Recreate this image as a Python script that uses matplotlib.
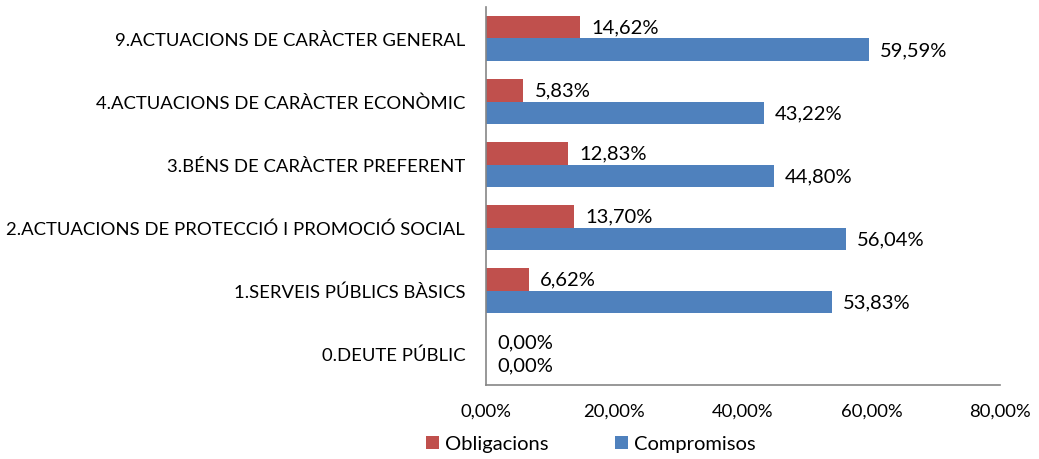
import numpy as np
import matplotlib.pyplot as plt

plt.rcParams['font.family'] = ['Lato', 'DejaVu Sans']

categories = ['0.DEUTE PÚBLIC', '1.SERVEIS PÚBLICS BÀSICS',
              '2.ACTUACIONS DE PROTECCIÓ I PROMOCIÓ SOCIAL',
              '3.BÉNS DE CARÀCTER PREFERENT',
              '4.ACTUACIONS DE CARÀCTER ECONÒMIC',
              '9.ACTUACIONS DE CARÀCTER GENERAL']
obligacions = [0.00, 6.62, 13.70, 12.83, 5.83, 14.62]
compromisos = [0.00, 53.83, 56.04, 44.80, 43.22, 59.59]
xticks = [0, 20, 40, 60, 80]

red = '#C0504D'
blue = '#4F81BD'
fs = 13.3
fs_lab = 14.5

fig = plt.figure(figsize=(10.39, 4.6), dpi=100)
ax = fig.add_axes([486 / 1039, 1 - 386 / 460, 514 / 1039, 378 / 460])

y = np.arange(len(categories))
h = 0.365
ax.barh(y + h / 2, obligacions, height=h, color=red, label='Obligacions')
ax.barh(y - h / 2, compromisos, height=h, color=blue, label='Compromisos')

fmt = lambda v: f'{v:.2f}%'.replace('.', ',')
for yi, v in zip(y, obligacions):
    ax.annotate(fmt(v), (v, yi + h / 2), xytext=(8, 0), textcoords='offset points',
                va='center', ha='left', fontsize=fs_lab)
for yi, v in zip(y, compromisos):
    ax.annotate(fmt(v), (v, yi - h / 2), xytext=(8, 0), textcoords='offset points',
                va='center', ha='left', fontsize=fs_lab)

ax.set_xlim(0, 80)
ax.set_ylim(-0.5, len(categories) - 0.5)
ax.set_xticks(xticks)
ax.set_xticklabels([fmt(t) for t in xticks], fontsize=fs)
ax.set_yticks(y)
ax.set_yticklabels(categories, fontsize=fs)
ax.tick_params(axis='both', length=0)
ax.tick_params(axis='y', pad=15)
ax.tick_params(axis='x', pad=13)

for s in ['top', 'right']:
    ax.spines[s].set_visible(False)
for s in ['left', 'bottom']:
    ax.spines[s].set_color('#868686')
    ax.spines[s].set_linewidth(1.2)

ax.legend(loc='center', bbox_to_anchor=(591 / 1039, 1 - 445 / 460),
          bbox_transform=fig.transFigure, ncol=2, frameon=False, fontsize=fs_lab,
          handlelength=0.65, handleheight=0.65, handletextpad=0.3, columnspacing=3.3,
          borderaxespad=0, borderpad=0)

fig.savefig('out.png', dpi=100)
